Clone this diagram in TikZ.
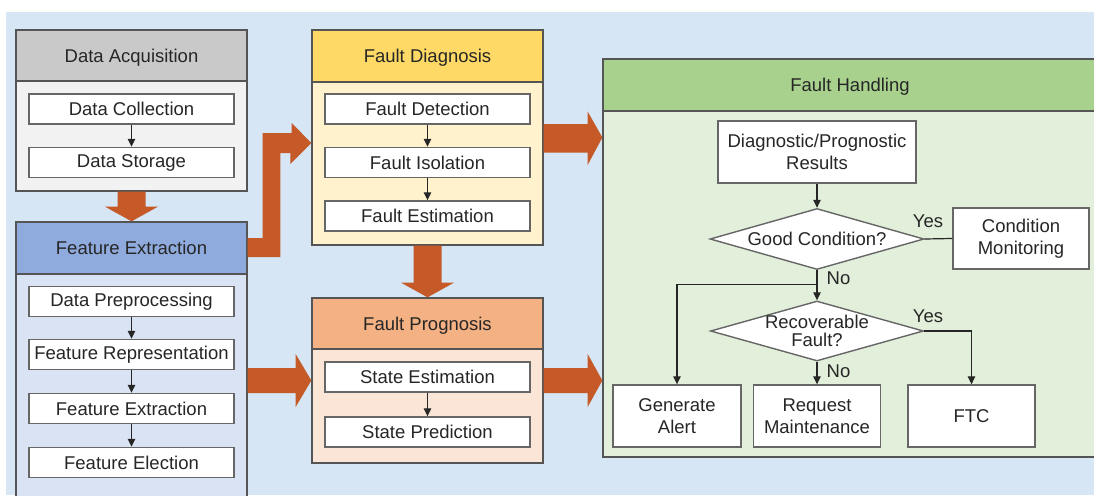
\documentclass[tikz,border=0pt]{standalone}
\usepackage{fontspec}
\setmainfont{Liberation Sans}
\usetikzlibrary{arrows.meta,shapes.geometric,calc}

\definecolor{bgblue}{HTML}{D6E6F5}
\definecolor{txt}{HTML}{262626}
\definecolor{edge}{HTML}{555555}
\definecolor{itemedge}{HTML}{666666}
\definecolor{dahead}{HTML}{C9C9C9}
\definecolor{dabody}{HTML}{F2F2F2}
\definecolor{fehead}{HTML}{8FAADC}
\definecolor{febody}{HTML}{DAE3F3}
\definecolor{fdhead}{HTML}{FFD966}
\definecolor{fdbody}{HTML}{FFF2CC}
\definecolor{fphead}{HTML}{F4B183}
\definecolor{fpbody}{HTML}{FBE5D6}
\definecolor{fhhead}{HTML}{A9D18E}
\definecolor{fhbody}{HTML}{E2EFDA}
\definecolor{blockorange}{HTML}{C55A28}

\tikzset{
  panel/.style={draw=edge, line width=1.3pt, rectangle, inner sep=0pt},
  header/.style={panel, text depth=0pt},
  item/.style={draw=itemedge, fill=white, line width=1.4pt, rectangle,
    minimum width=205pt, minimum height=30pt, inner sep=0pt},
  fbox/.style={draw=itemedge, fill=white, line width=1.4pt, rectangle,
    align=center, inner sep=0pt},
  dia/.style={diamond, draw=itemedge, fill=white, line width=1.4pt,
    aspect=3.5, inner sep=0pt},
  flow/.style={draw=txt, line width=1.2pt, -{Triangle[length=8pt,width=7.5pt]}},
  plain/.style={draw=txt, line width=1.2pt},
  blockarrow/.style={fill=blockorange},
  lbl/.style={inner sep=0pt, text=txt}
}

\begin{document}
\begin{tikzpicture}[x=1pt, y=-1pt, font=\fontsize{18.5}{22}\selectfont, text=txt]
\useasboundingbox (0,0) rectangle (1094,495);
\clip (0,0) rectangle (1094,495);
\fill[bgblue] (6,12) rectangle (1094,495);

% ---- Data Acquisition
\node[panel, fill=dabody, minimum width=231pt, minimum height=161pt] (da) at (131.5,110.5) {};
\node[header, fill=dahead, minimum width=231pt, minimum height=51pt] (daH) at (131.5,55.5) {Data Acquisition};
\node[item] (dc) at (131.5,109) {Data Collection};
\node[item] (ds) at (131.5,162.5) {Data Storage};
\draw[flow] (dc) -- (ds);

% ---- Feature Extraction
\node[panel, fill=febody, minimum width=231pt, minimum height=278pt] (fe) at (131.5,361) {};
\node[header, fill=fehead, minimum width=231pt, minimum height=52pt] (feH) at (131.5,248) {Feature Extraction};
\node[item] (dp) at (131.5,301.5) {Data Preprocessing};
\node[item] (fr) at (131.5,354.5) {Feature Representation};
\node[item] (fx) at (131.5,408.5) {Feature Extraction};
\node[item] (fel) at (131.5,462.5) {Feature Election};
\draw[flow] (dp) -- (fr);
\draw[flow] (fr) -- (fx);
\draw[flow] (fx) -- (fel);

% ---- Fault Diagnosis
\node[panel, fill=fdbody, minimum width=231pt, minimum height=215pt] (fd) at (427.5,137.5) {};
\node[header, fill=fdhead, minimum width=231pt, minimum height=52pt] (fdH) at (427.5,56) {Fault Diagnosis};
\node[item] (fdet) at (427.5,109) {Fault Detection};
\node[item] (fiso) at (427.5,162.5) {Fault Isolation};
\node[item] (fest) at (427.5,216) {Fault Estimation};
\draw[flow] (fdet) -- (fiso);
\draw[flow] (fiso) -- (fest);

% ---- Fault Prognosis
\node[panel, fill=fpbody, minimum width=231pt, minimum height=165pt] (fp) at (427.5,380.5) {};
\node[header, fill=fphead, minimum width=231pt, minimum height=51pt] (fpH) at (427.5,323.5) {Fault Prognosis};
\node[item] (se) at (427.5,377) {State Estimation};
\node[item] (sp) at (427.5,432) {State Prediction};
\draw[flow] (se) -- (sp);

% ---- Fault Handling
\node[panel, fill=fhbody, minimum width=494pt, minimum height=398pt] (fh) at (850,258) {};
\node[header, fill=fhhead, minimum width=494pt, minimum height=52pt] (fhH) at (850,85) {Fault Handling};

\node[fbox, minimum width=198pt, minimum height=62pt] (res) at (817,152)
  {Diagnostic/Prognostic\\Results};
\node[dia, minimum width=214pt, minimum height=61pt] (good) at (817,239) {Good Condition?};
\node[fbox, minimum width=136pt, minimum height=61pt] (cm) at (1021,238.5)
  {Condition\\Monitoring};
\node[dia, minimum width=213pt, minimum height=60pt,
  label={[align=center, font=\fontsize{18.5}{18}\selectfont, text=txt]center:Recoverable\\Fault?}]
  (rec) at (817,331) {};
\node[fbox, minimum width=128pt, minimum height=62pt] (ga) at (677,416) {Generate\\Alert};
\node[fbox, minimum width=127pt, minimum height=62pt] (rm) at (817,416) {Request\\Maintenance};
\node[fbox, minimum width=127pt, minimum height=62pt] (ftc) at (971.5,416) {FTC};

\draw[flow] (res) -- (good);
\draw[plain] (good.east) -- (cm.west);
\draw[flow] (good.south) -- (rec.north);
\coordinate (br) at ($(good.south)+(0,14)$);
\draw[flow] (br) -| (ga.north);
\draw[flow] (rec.south) -- (rm.north);
\draw[flow] (rec.east) -| (ftc.north);

\node[lbl] (yes1) at (928,221.5) {Yes};
\node[lbl] (no1) at (838.5,278.5) {No};
\node[lbl] (yes2) at (928,316.5) {Yes};
\node[lbl] (no2) at (838.5,371) {No};

% ---- block arrows between stages
% Data Acquisition -> Feature Extraction
\fill[blockarrow] ($(da.south)+(-14,0)$) -- ++(28,0) -- ++(0,15) -- ++(12.5,0)
  -- (feH.north) -- ($(da.south)+(-26.5,15)$) -- ++(12.5,0) -- cycle;
% Feature Extraction -> Fault Diagnosis (elbow)
\fill[blockarrow] ($(feH.east)+(0,-10)$) -- ++(15,0) -- ++(0,-105) -- ++(29,0)
  -- ++(0,-10) -- ($(fd.west)+(0,5.5)$) -- ++(-21,21) -- ++(0,-11)
  -- ++(-10,0) -- ++(0,104) -- ($(feH.east)+(0,9)$) -- cycle;
% Fault Diagnosis -> Fault Handling
\fill[blockarrow] ($(fd.east)+(0,-13.5)$) -- ++(44,0) -- ++(0,-12.5)
  -- (fh.west |- fd.east) -- ($(fd.east)+(44,27.5)$) -- ++(0,-12.5)
  -- ($(fd.east)+(0,15)$) -- cycle;
% Fault Diagnosis -> Fault Prognosis
\fill[blockarrow] ($(fd.south)+(-14,0)$) -- ++(28,0) -- ++(0,37) -- ++(12.5,0)
  -- (fpH.north) -- ($(fd.south)+(-26.5,37)$) -- ++(12.5,0) -- cycle;
% Feature Extraction -> Fault Prognosis
\fill[blockarrow] ($(fe.east |- fp.west)+(0,-12.5)$) -- ++(48,0) -- ++(0,-14)
  -- (fp.west) -- ($(fe.east |- fp.west)+(48,26.5)$) -- ++(0,-14)
  -- ($(fe.east |- fp.west)+(0,12.5)$) -- cycle;
% Fault Prognosis -> Fault Handling
\fill[blockarrow] ($(fp.east)+(0,-12.5)$) -- ++(44,0) -- ++(0,-14)
  -- (fh.west |- fp.east) -- ($(fp.east)+(44,26.5)$) -- ++(0,-14)
  -- ($(fp.east)+(0,12.5)$) -- cycle;
\end{tikzpicture}
\end{document}
